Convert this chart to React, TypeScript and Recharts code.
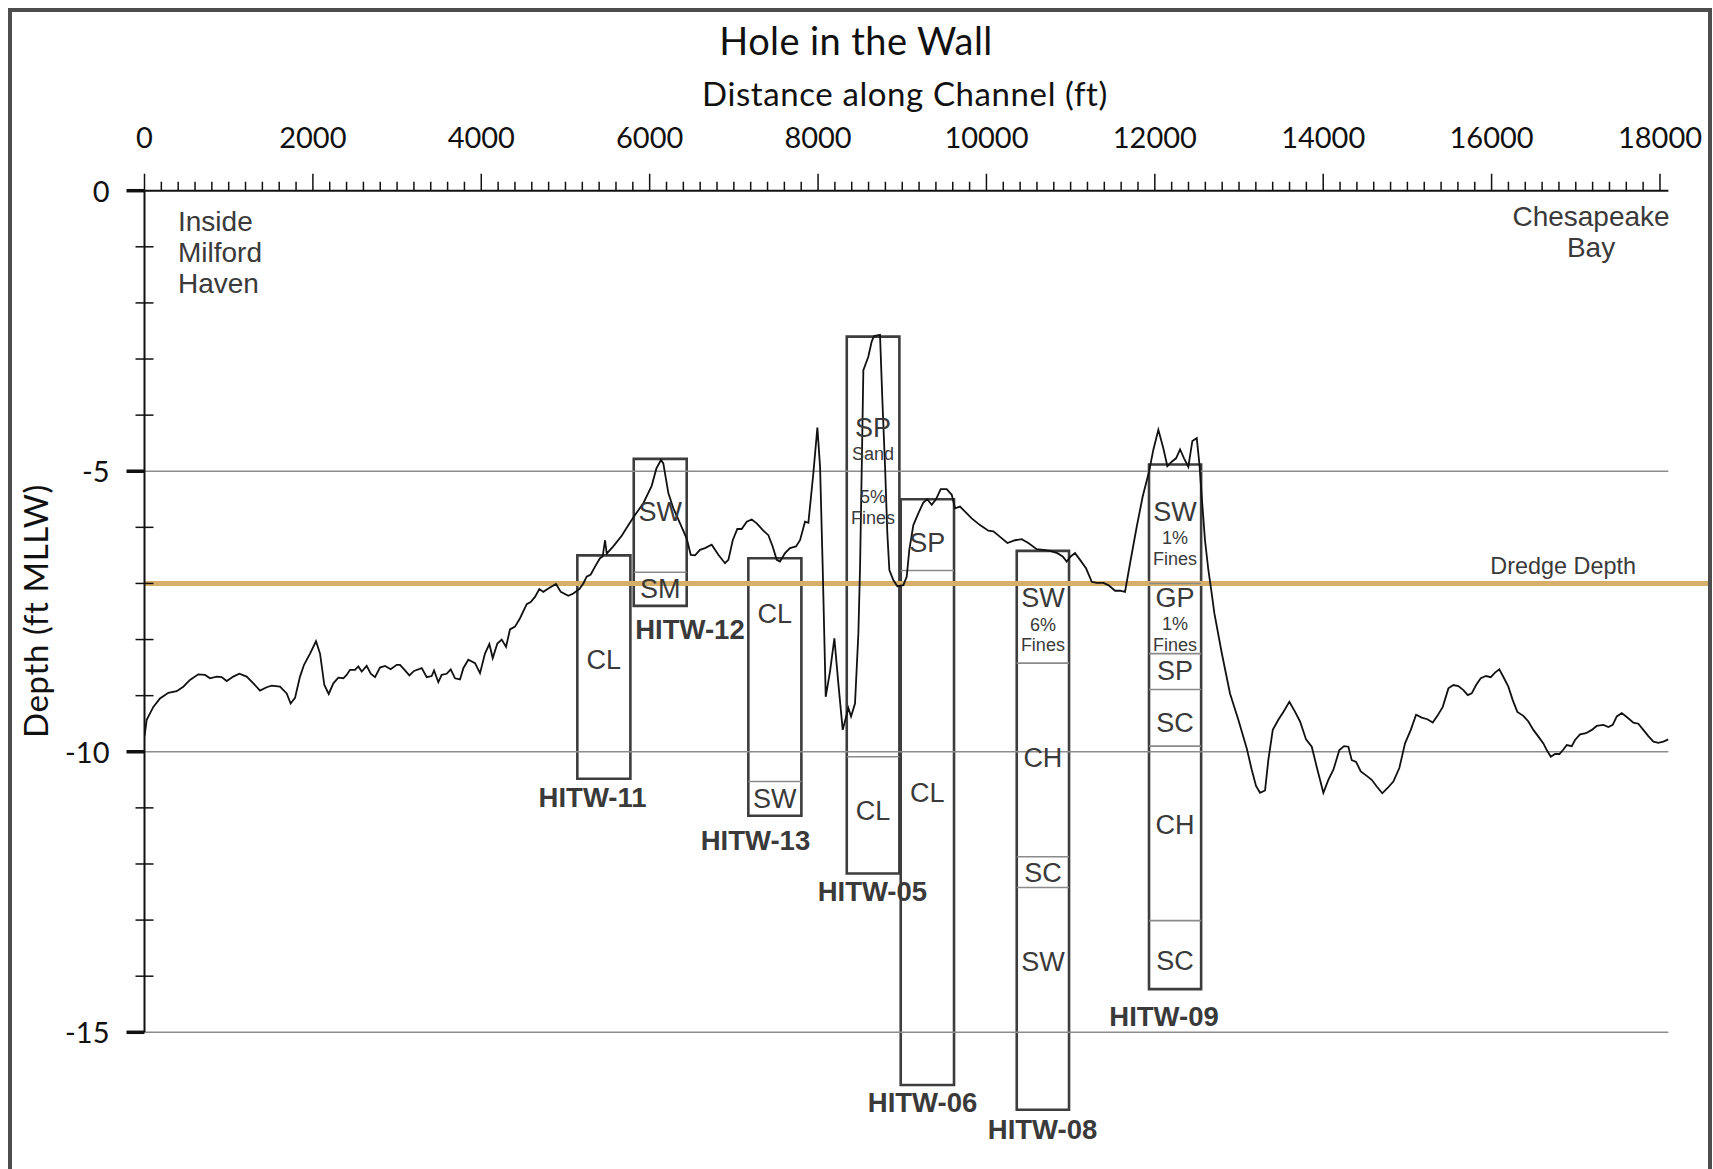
import { ComposedChart, Line, XAxis, YAxis, ReferenceLine, ReferenceArea, ReferenceDot } from 'recharts';

// Channel bottom profile: distance along channel (ft) and depth (ft MLLW)
const profileDistance = [
  0, 26, 105, 184, 283, 382, 461, 540, 639, 719,
  778, 857, 917, 976, 1055, 1126, 1214, 1293, 1372, 1451,
  1511, 1609, 1689, 1736, 1788, 1847, 1895, 1966, 2037, 2085,
  2136, 2188, 2243, 2302, 2362, 2401, 2441, 2500, 2540, 2580,
  2639, 2687, 2738, 2797, 2857, 2924, 2996, 3035, 3094, 3146,
  3201, 3293, 3352, 3411, 3439, 3490, 3530, 3589, 3637, 3688,
  3748, 3787, 3846, 3926, 3985, 4044, 4096, 4136, 4191, 4243,
  4294, 4341, 4401, 4460, 4540, 4587, 4638, 4690, 4737, 4796,
  4888, 4944, 5034, 5093, 5165, 5212, 5252, 5300, 5351, 5410,
  5442, 5470, 5490, 5568, 5668, 5759, 5826, 5925, 6024, 6080,
  6135, 6162, 6222, 6281, 6361, 6440, 6488, 6539, 6598, 6657,
  6737, 6816, 6895, 6935, 6987, 7041, 7093, 7153, 7212, 7272,
  7350, 7410, 7461, 7509, 7548, 7608, 7667, 7738, 7786, 7845,
  7885, 7944, 7992, 8024, 8055, 8091, 8142, 8194, 8241, 8293,
  8360, 8392, 8439, 8479, 8499, 8526, 8538, 8597, 8637, 8665,
  8736, 8764, 8796, 8823, 8847, 8894, 8942, 9013, 9053, 9084,
  9132, 9191, 9250, 9298, 9350, 9401, 9457, 9528, 9588, 9627,
  9686, 9746, 9825, 9924, 10023, 10082, 10162, 10249, 10340, 10419,
  10498, 10597, 10676, 10755, 10842, 10906, 10953, 11001, 11052, 11112,
  11183, 11251, 11310, 11389, 11448, 11528, 11587, 11646, 11706, 11785,
  11856, 11931, 11982, 12042, 12101, 12149, 12201, 12252, 12300, 12347,
  12398, 12446, 12498, 12529, 12557, 12596, 12636, 12676, 12707, 12795,
  12893, 12992, 13092, 13151, 13202, 13250, 13309, 13348, 13401, 13467,
  13527, 13598, 13666, 13725, 13796, 13864, 13923, 14002, 14061, 14121,
  14192, 14248, 14299, 14339, 14390, 14446, 14517, 14576, 14636, 14702,
  14762, 14833, 14904, 14972, 15040, 15103, 15170, 15237, 15301, 15356,
  15420, 15487, 15546, 15605, 15665, 15717, 15764, 15816, 15871, 15934,
  15990, 16041, 16092, 16148, 16199, 16251, 16306, 16377, 16437, 16496,
  16556, 16615, 16655, 16703, 16754, 16805, 16853, 16893, 16952, 16991,
  17051, 17122, 17190, 17249, 17328, 17387, 17439, 17487, 17546, 17613,
  17684, 17743, 17802, 17862, 17922, 17981, 18040, 18100,
];

const profileDepth = [
  -9.72, -9.43, -9.2, -9.05, -8.95, -8.92, -8.84, -8.72, -8.62, -8.63,
  -8.69, -8.66, -8.67, -8.74, -8.66, -8.61, -8.66, -8.78, -8.91, -8.85,
  -8.82, -8.84, -8.96, -9.14, -9.04, -8.66, -8.45, -8.25, -8.03, -8.25,
  -8.81, -8.97, -8.78, -8.68, -8.69, -8.63, -8.54, -8.54, -8.48, -8.57,
  -8.47, -8.61, -8.67, -8.5, -8.47, -8.53, -8.45, -8.45, -8.55, -8.64,
  -8.56, -8.51, -8.67, -8.65, -8.55, -8.76, -8.63, -8.61, -8.53, -8.69,
  -8.71, -8.51, -8.36, -8.42, -8.6, -8.25, -8.08, -8.33, -8.07, -8.0,
  -8.13, -7.82, -7.77, -7.62, -7.37, -7.33, -7.24, -7.1, -7.15, -7.09,
  -7.01, -7.15, -7.22, -7.18, -7.1, -7.0, -6.88, -6.84, -6.7, -6.55,
  -6.52, -6.23, -6.47, -6.34, -6.15, -5.93, -5.78, -5.57, -5.26, -4.95,
  -4.8, -4.86, -5.39, -5.66, -5.93, -6.2, -6.49, -6.5, -6.4, -6.37,
  -6.31, -6.49, -6.64, -6.58, -6.23, -6.03, -6.03, -5.9, -5.86, -5.93,
  -6.06, -6.14, -6.34, -6.58, -6.61, -6.46, -6.37, -6.34, -6.23, -5.9,
  -5.92, -5.04, -4.22, -4.92, -6.7, -9.02, -8.57, -7.98, -8.78, -9.61,
  -9.22, -9.37, -9.14, -7.89, -6.7, -4.32, -3.2, -2.96, -2.69, -2.59,
  -2.57, -3.73, -4.92, -6.11, -6.76, -6.94, -7.05, -7.03, -6.88, -6.4,
  -5.96, -5.75, -5.56, -5.5, -5.6, -5.5, -5.32, -5.32, -5.42, -5.66,
  -5.63, -5.72, -5.84, -5.96, -6.06, -6.07, -6.17, -6.28, -6.23, -6.21,
  -6.28, -6.39, -6.4, -6.42, -6.46, -6.52, -6.61, -6.52, -6.46, -6.58,
  -6.73, -6.97, -6.99, -6.99, -7.03, -7.13, -7.13, -7.15, -6.64, -5.99,
  -5.45, -5.01, -4.62, -4.26, -4.59, -4.91, -4.83, -4.77, -4.61, -4.77,
  -4.92, -4.46, -4.41, -4.86, -5.45, -6.23, -6.76, -7.18, -7.53, -8.24,
  -8.96, -9.43, -9.94, -10.32, -10.61, -10.73, -10.69, -10.15, -9.61, -9.43,
  -9.29, -9.11, -9.29, -9.46, -9.78, -9.91, -10.27, -10.73, -10.5, -10.32,
  -9.97, -9.9, -9.91, -10.15, -10.18, -10.35, -10.43, -10.5, -10.62, -10.74,
  -10.65, -10.53, -10.29, -9.85, -9.61, -9.34, -9.39, -9.42, -9.48, -9.36,
  -9.2, -8.87, -8.81, -8.83, -8.9, -8.99, -8.96, -8.81, -8.69, -8.65,
  -8.67, -8.59, -8.53, -8.69, -8.84, -9.08, -9.29, -9.36, -9.46, -9.61,
  -9.73, -9.85, -9.97, -10.09, -10.04, -10.04, -9.96, -9.88, -9.9, -9.79,
  -9.69, -9.67, -9.61, -9.54, -9.52, -9.56, -9.52, -9.37, -9.31, -9.39,
  -9.48, -9.5, -9.61, -9.72, -9.82, -9.84, -9.82, -9.78,
];

// Boreholes: extent along channel (ft) and top/bottom elevation (ft MLLW)
const boreholeIds = ['HITW-11', 'HITW-12', 'HITW-13', 'HITW-05', 'HITW-06', 'HITW-08', 'HITW-09'];
const boreholeLeft = [5141, 5811, 7172, 8341, 8982, 10360, 11931];
const boreholeRight = [5771, 6440, 7802, 8966, 9615, 10981, 12550];
const boreholeTop = [-6.5, -4.78, -6.55, -2.6, -5.5, -6.42, -4.88];
const boreholeBottom = [-10.48, -7.4, -11.14, -12.17, -15.94, -16.38, -14.23];

// depths where the soil type changes inside each borehole
const layerBreaks = [
  [],
  [-6.8],
  [-10.53],
  [-10.09],
  [-6.77],
  [-8.42, -11.87, -12.42],
  [-7.0, -8.25, -8.89, -9.9, -13.01],
];

const soilLabels = [
  ['CL'],
  ['SW', 'SM'],
  ['CL', 'SW'],
  ['SP', 'Sand', '5%', 'Fines', 'CL'],
  ['SP', 'CL'],
  ['SW', '6%', 'Fines', 'CH', 'SC', 'SW'],
  ['SW', '1%', 'Fines', 'GP', '1%', 'Fines', 'SP', 'SC', 'CH', 'SC'],
];
const soilLabelDepths = [
  [-8.35],
  [-5.71, -7.08],
  [-7.53, -10.83],
  [-4.22, -4.69, -5.45, -5.82, -11.05],
  [-6.27, -10.72],
  [-7.24, -7.74, -8.08, -10.09, -12.15, -13.73],
  [-5.71, -6.19, -6.56, -7.24, -7.72, -8.08, -8.54, -9.48, -11.29, -13.72],
];

// where each borehole name sits
const idLabelX = [5322, 6479, 7257, 8645, 9241, 10666, 12109];
const idLabelDepth = [-10.81, -7.81, -11.57, -12.48, -16.25, -16.73, -14.71];

const dredgeDepth = -7;

const xTickLabels = [0, 2000, 4000, 6000, 8000, 10000, 12000, 14000, 16000, 18000];
const xMinorStep = 200;
const xTicks = Array.from({ length: 18000 / xMinorStep + 1 }, (_, i) => i * xMinorStep);
const yTicks = [0, -1, -2, -3, -4, -5, -6, -7, -8, -9, -10, -11, -12, -13, -14, -15];
const yTickLabels = [0, -5, -10, -15];
const gridDepths = [-5, -10, -15];

const chartData = profileDistance.map((x, i) => ({ x, depth: profileDepth[i] }));

const SANS = '"Liberation Sans", Arial, sans-serif';
const HUMANIST = 'Lato, "Open Sans", sans-serif';
const INK = '#3a3a3a';

const renderXTick = (props: any) => {
  const { x, y, payload } = props;
  const major = xTickLabels.includes(payload.value);
  return (
    <g>
      <line x1={x} x2={x} y1={y} y2={y - (major ? 17 : 9)} stroke="#111" strokeWidth={1.5} />
      {major && (
        <text x={x} y={y - 42.4} textAnchor="middle" fontFamily={HUMANIST} fontSize={29} fill="#111">
          {payload.value}
        </text>
      )}
    </g>
  );
};

const renderYTick = (props: any) => {
  const { x, y, payload } = props;
  const major = yTickLabels.includes(payload.value);
  return (
    <g>
      {major ? (
        <line x1={x - 18} x2={x} y1={y} y2={y} stroke="#111" strokeWidth={3.5} />
      ) : (
        <line x1={x - 9} x2={x + 9} y1={y} y2={y} stroke="#111" strokeWidth={1.5} />
      )}
      {major && (
        <text x={x - 35} y={y + 11} textAnchor="end" fontFamily={HUMANIST} fontSize={29} fill="#111">
          {payload.value}
        </text>
      )}
    </g>
  );
};

// text centred on a data point (cap-height centred)
const centredText = (text: string, size: number, weight: number | string = 'normal') => (p: any) => (
  <text
    x={p.cx}
    y={p.cy + size * 0.36}
    textAnchor="middle"
    fontFamily={SANS}
    fontSize={size}
    fontWeight={weight}
    fill={INK}
  >
    {text}
  </text>
);

// multi-line text whose first baseline sits on the data point
const stackedText = (lines: string[], size: number, anchor: string, lineGap: number) => (p: any) => (
  <text x={p.cx} y={p.cy} textAnchor={anchor} fontFamily={SANS} fontSize={size} fill={INK}>
    {lines.map((line, i) => (
      <tspan key={line} x={p.cx} dy={i === 0 ? 0 : lineGap}>
        {line}
      </tspan>
    ))}
  </text>
);

const isSmallLabel = (t: string) => t === 'Sand' || t === 'Fines' || t.includes('%');

export default function App() {
  return (
    <div style={{ position: 'absolute', left: 0, top: 0, width: 1713, height: 1169, overflow: 'hidden', background: '#fff' }}>
      <ComposedChart
        width={1713}
        height={1169}
        data={chartData}
        margin={{ top: 0, right: 44.6, bottom: 136.7, left: 0 }}
      >
        <XAxis
          dataKey="x"
          type="number"
          orientation="top"
          domain={[0, 18100]}
          allowDataOverflow
          ticks={xTicks}
          interval={0}
          height={190.7}
          tickSize={0}
          tickMargin={0}
          tickLine={false}
          axisLine={{ stroke: '#111', strokeWidth: 2 }}
          tick={renderXTick}
        />
        <YAxis
          type="number"
          domain={[-15, 0]}
          allowDataOverflow
          ticks={yTicks}
          interval={0}
          width={144.5}
          tickSize={0}
          tickMargin={0}
          tickLine={false}
          axisLine={{ stroke: '#111', strokeWidth: 2 }}
          tick={renderYTick}
        />

        {gridDepths.map((d) => (
          <ReferenceLine key={d} y={d} stroke="#8c8c8c" strokeWidth={1.6} />
        ))}

        <ReferenceLine
          segment={[{ x: 0, y: dredgeDepth }, { x: 18590, y: dredgeDepth }]}
          stroke="#D6B06B"
          strokeWidth={5}
          ifOverflow="visible"
        />
        <ReferenceDot x={16850} y={-6.83} r={0} ifOverflow="visible" shape={stackedText(['Dredge Depth'], 23.4, 'middle', 0)} />

        <ReferenceDot x={398} y={-0.713} r={0} ifOverflow="visible" shape={stackedText(['Inside', 'Milford', 'Haven'], 28, 'start', 31.3)} />
        <ReferenceDot x={17181} y={-0.63} r={0} ifOverflow="visible" shape={stackedText(['Chesapeake', 'Bay'], 28, 'middle', 30.7)} />

        {boreholeIds.map((id, i) =>
          layerBreaks[i].map((d) => (
            <ReferenceLine
              key={`${id}-${d}`}
              segment={[{ x: boreholeLeft[i], y: d }, { x: boreholeRight[i], y: d }]}
              stroke="#8a8a8a"
              strokeWidth={1.6}
              ifOverflow="visible"
            />
          ))
        )}

        {boreholeIds.map((id, i) => (
          <ReferenceArea
            key={id}
            x1={boreholeLeft[i]}
            x2={boreholeRight[i]}
            y1={boreholeBottom[i]}
            y2={boreholeTop[i]}
            fill="none"
            fillOpacity={0}
            stroke="#3d3d3d"
            strokeWidth={2.6}
            ifOverflow="visible"
          />
        ))}

        {boreholeIds.map((id, i) =>
          soilLabels[i].map((t, j) => (
            <ReferenceDot
              key={`${id}-${j}`}
              x={(boreholeLeft[i] + boreholeRight[i]) / 2}
              y={soilLabelDepths[i][j]}
              r={0}
              ifOverflow="visible"
              shape={centredText(t, isSmallLabel(t) ? 18 : 27)}
            />
          ))
        )}

        {boreholeIds.map((id, i) => (
          <ReferenceDot
            key={`${id}-name`}
            x={idLabelX[i]}
            y={idLabelDepth[i]}
            r={0}
            ifOverflow="visible"
            shape={centredText(id, 27.5, 'bold')}
          />
        ))}

        <Line
          type="linear"
          dataKey="depth"
          stroke="#111"
          strokeWidth={1.8}
          dot={false}
          activeDot={false}
          isAnimationActive={false}
        />
      </ComposedChart>

      <svg width={1713} height={1169} style={{ position: 'absolute', left: 0, top: 0, pointerEvents: 'none' }}>
        <text x={856} y={55} textAnchor="middle" fontFamily={HUMANIST} fontSize={38} letterSpacing={0.4} fill="#111">
          Hole in the Wall
        </text>
        <text x={905} y={106} textAnchor="middle" fontFamily={HUMANIST} fontSize={33} letterSpacing={0.6} fill="#111">
          Distance along Channel (ft)
        </text>
        <text
          x={48}
          y={611}
          textAnchor="middle"
          fontFamily={HUMANIST}
          fontSize={33}
          letterSpacing={0.6}
          fill="#111"
          transform="rotate(-90 48 611)"
        >
          Depth (ft MLLW)
        </text>
      </svg>

      <div
        style={{
          position: 'absolute',
          left: 8,
          top: 8,
          width: 1696,
          height: 1300,
          border: '4px solid #4d4d4d',
          pointerEvents: 'none',
        }}
      />
    </div>
  );
}
